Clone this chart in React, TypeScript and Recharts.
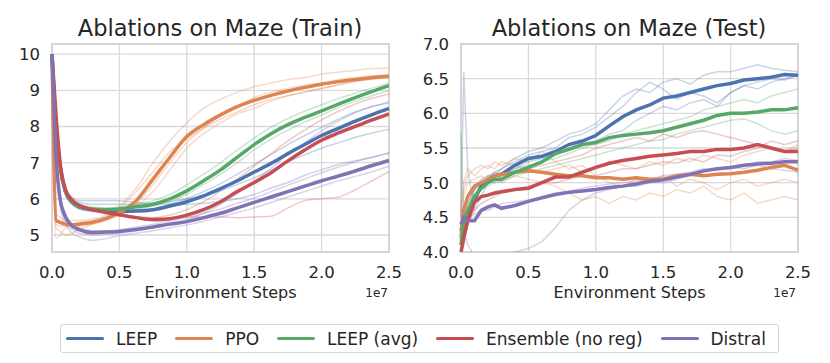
import { LineChart, Line, XAxis, YAxis, CartesianGrid, ReferenceArea, Label } from "recharts";

const INK = "#262626";
const FONT = "DejaVu Sans";

const METHODS = ["LEEP", "PPO", "LEEP (avg)", "Ensemble (no reg)", "Distral"];
const COLORS = ["#4c72b0", "#dd8452", "#55a868", "#c44e52", "#8172b3"];

const X_TICKS = [0, 0.5e7, 1e7, 1.5e7, 2e7, 2.5e7];

// ---- Train panel (x in units of 1e7 steps)
const TRAIN_STEPS = [0, 0.03, 0.06, 0.1, 0.15, 0.2, 0.3, 0.4, 0.5, 0.625, 0.75, 0.875, 1.0, 1.125, 1.25, 1.375, 1.5, 1.625, 1.75, 1.875, 2.0, 2.125, 2.25, 2.375, 2.5];
const TRAIN_LEEP = [10, 8.0, 6.9, 6.2, 5.9, 5.78, 5.7, 5.66, 5.65, 5.66, 5.7, 5.8, 5.92, 6.08, 6.28, 6.5, 6.74, 6.98, 7.25, 7.5, 7.75, 7.95, 8.15, 8.33, 8.5];
const TRAIN_PPO = [10, 5.4, 5.35, 5.3, 5.28, 5.3, 5.35, 5.45, 5.62, 5.95, 6.55, 7.15, 7.72, 8.05, 8.32, 8.55, 8.72, 8.86, 8.98, 9.08, 9.17, 9.24, 9.3, 9.35, 9.38];
const TRAIN_AVG = [10, 8.0, 6.9, 6.2, 5.9, 5.8, 5.72, 5.7, 5.72, 5.78, 5.85, 6.0, 6.22, 6.5, 6.8, 7.15, 7.5, 7.8, 8.05, 8.25, 8.43, 8.62, 8.8, 8.97, 9.13];
const TRAIN_ENS = [10, 8.3, 7.0, 6.25, 5.95, 5.82, 5.7, 5.62, 5.56, 5.48, 5.42, 5.45, 5.55, 5.7, 5.92, 6.2, 6.45, 6.72, 7.05, 7.35, 7.62, 7.82, 8.0, 8.18, 8.35];
const TRAIN_DISTRAL = [10, 7.2, 6.0, 5.5, 5.25, 5.15, 5.07, 5.08, 5.1, 5.15, 5.22, 5.3, 5.37, 5.48, 5.6, 5.75, 5.9, 6.05, 6.2, 6.35, 6.5, 6.63, 6.77, 6.92, 7.06];

const TRAIN_LEEP_RUNS = [
  [10, 8.0, 6.9, 6.25, 6.0, 5.9, 5.85, 5.85, 5.85, 5.85, 5.88, 5.92, 6.0, 6.1, 6.22, 6.4, 6.58, 6.8, 7.02, 7.22, 7.4, 7.55, 7.7, 7.82, 7.92],
  [10, 8.1, 7.0, 6.3, 6.05, 5.95, 5.95, 5.95, 5.95, 5.9, 5.88, 5.85, 5.85, 5.88, 5.92, 6.0, 6.12, 6.3, 6.45, 6.65, 6.8, 6.95, 7.05, 7.15, 7.25],
  [10, 7.9, 6.8, 6.15, 5.85, 5.72, 5.65, 5.62, 5.62, 5.65, 5.72, 5.85, 6.0, 6.2, 6.42, 6.68, 6.95, 7.22, 7.5, 7.75, 7.98, 8.2, 8.4, 8.55, 8.68],
];
const TRAIN_PPO_RUNS = [
  [10, 5.2, 5.1, 5.0, 5.05, 5.15, 5.3, 5.5, 5.8, 6.3, 7.0, 7.6, 8.1, 8.5, 8.75, 8.95, 9.1, 9.2, 9.3, 9.35, 9.45, 9.5, 9.55, 9.6, 9.62],
  [10, 5.6, 5.5, 5.4, 5.4, 5.4, 5.45, 5.5, 5.6, 5.8, 6.2, 6.8, 7.4, 7.8, 8.1, 8.35, 8.5, 8.7, 8.85, 8.95, 9.05, 9.15, 9.25, 9.3, 9.35],
  [10, 4.9, 5.0, 5.2, 5.3, 5.35, 5.4, 5.55, 5.75, 6.2, 6.75, 7.3, 7.65, 7.95, 8.2, 8.4, 8.6, 8.75, 8.85, 8.95, 9.05, 9.15, 9.25, 9.35, 9.45],
  [10, 5.3, 5.25, 5.25, 5.2, 5.25, 5.3, 5.4, 5.55, 5.85, 6.4, 7.0, 7.55, 7.95, 8.3, 8.55, 8.8, 8.95, 9.05, 9.15, 9.2, 9.3, 9.35, 9.4, 9.42],
];
const TRAIN_AVG_RUNS = [
  [10, 8.2, 7.0, 6.3, 6.0, 5.85, 5.78, 5.75, 5.78, 5.85, 5.95, 6.12, 6.38, 6.68, 7.0, 7.35, 7.68, 7.98, 8.22, 8.42, 8.6, 8.77, 8.92, 9.06, 9.2],
  [10, 7.8, 6.8, 6.1, 5.85, 5.75, 5.68, 5.66, 5.68, 5.72, 5.8, 5.92, 6.12, 6.4, 6.68, 7.0, 7.35, 7.65, 7.9, 8.12, 8.32, 8.52, 8.7, 8.85, 9.0],
];
const TRAIN_ENS_RUNS = [
  [10, 8.4, 7.1, 6.3, 6.0, 5.85, 5.7, 5.62, 5.55, 5.5, 5.48, 5.48, 5.5, 5.5, 5.5, 5.48, 5.5, 5.52, 5.75, 5.95, 6.0, 6.05, 6.25, 6.5, 6.75],
  [10, 8.2, 7.0, 6.2, 5.9, 5.8, 5.68, 5.6, 5.55, 5.5, 5.48, 5.55, 5.7, 5.92, 6.22, 6.55, 6.9, 7.25, 7.6, 7.9, 8.18, 8.42, 8.62, 8.78, 8.9],
];
const TRAIN_DISTRAL_RUNS = [
  [10, 7.0, 5.8, 5.3, 5.05, 4.95, 4.85, 4.9, 4.98, 5.05, 5.12, 5.2, 5.28, 5.38, 5.5, 5.62, 5.75, 5.9, 6.05, 6.2, 6.35, 6.5, 6.62, 6.75, 6.9],
  [10, 7.3, 6.1, 5.6, 5.3, 5.2, 5.12, 5.12, 5.15, 5.22, 5.3, 5.38, 5.48, 5.6, 5.72, 5.88, 6.02, 6.2, 6.38, 6.55, 6.72, 6.88, 7.02, 7.15, 7.28],
  [10, 7.1, 5.9, 5.4, 5.15, 5.05, 5.0, 5.02, 5.05, 5.12, 5.2, 5.3, 5.42, 5.6, 5.85, 6.15, 6.48, 6.85, 7.22, 7.55, 7.88, 8.15, 8.38, 8.55, 8.65],
];
const TRAIN_Y_TICKS = [5, 6, 7, 8, 9, 10];

// ---- Test panel
const TEST_STEPS = [0, 0.02, 0.05, 0.1, 0.15, 0.2, 0.25, 0.3, 0.4, 0.5, 0.6, 0.7, 0.8, 0.9, 1.0, 1.1, 1.2, 1.3, 1.4, 1.5, 1.6, 1.7, 1.8, 1.9, 2.0, 2.1, 2.2, 2.3, 2.4, 2.5];
const TEST_LEEP = [4.3, 4.5, 4.5, 4.75, 4.95, 5.05, 5.1, 5.12, 5.25, 5.35, 5.38, 5.45, 5.55, 5.6, 5.68, 5.82, 5.95, 6.05, 6.12, 6.22, 6.25, 6.3, 6.35, 6.4, 6.43, 6.48, 6.5, 6.52, 6.56, 6.55];
const TEST_PPO = [4.2, 4.6, 4.8, 4.95, 5.0, 5.05, 5.1, 5.12, 5.15, 5.17, 5.15, 5.12, 5.1, 5.1, 5.07, 5.07, 5.05, 5.07, 5.05, 5.05, 5.1, 5.12, 5.1, 5.12, 5.13, 5.15, 5.18, 5.22, 5.25, 5.18];
const TEST_AVG = [4.1, 4.4, 4.6, 4.8, 4.92, 5.0, 5.05, 5.05, 5.15, 5.22, 5.3, 5.42, 5.48, 5.55, 5.58, 5.65, 5.68, 5.7, 5.72, 5.75, 5.8, 5.85, 5.9, 5.97, 6.0, 6.0, 6.02, 6.05, 6.05, 6.08];
const TEST_ENS = [4.0, 4.2, 4.45, 4.72, 4.8, 4.82, 4.85, 4.87, 4.9, 4.92, 5.0, 5.08, 5.08, 5.15, 5.22, 5.28, 5.32, 5.35, 5.38, 5.4, 5.42, 5.45, 5.45, 5.48, 5.48, 5.5, 5.55, 5.5, 5.45, 5.45];
const TEST_DISTRAL = [4.4, 4.5, 4.45, 4.45, 4.6, 4.65, 4.68, 4.63, 4.67, 4.73, 4.78, 4.83, 4.86, 4.88, 4.9, 4.93, 4.95, 4.98, 5.02, 5.04, 5.08, 5.12, 5.17, 5.2, 5.22, 5.25, 5.27, 5.28, 5.3, 5.3];

const TEST_LEEP_RUNS = [
  [4.5, 6.6, 5.2, 4.6, 4.8, 5.0, 5.1, 5.2, 5.35, 5.45, 5.5, 5.6, 5.7, 5.75, 5.85, 6.05, 6.25, 6.35, 6.3, 6.45, 6.5, 6.42, 6.55, 6.6, 6.6, 6.65, 6.7, 6.65, 6.62, 6.6],
  [4.2, 4.4, 4.6, 4.8, 5.0, 5.05, 5.15, 5.1, 5.2, 5.3, 5.35, 5.4, 5.5, 5.55, 5.6, 5.7, 5.75, 5.9, 6.0, 6.1, 6.05, 6.15, 6.2, 6.1, 6.3, 6.4, 6.35, 6.45, 6.5, 6.55],
  [4.3, 4.5, 4.7, 4.9, 5.05, 5.1, 5.15, 5.2, 5.3, 5.4, 5.45, 5.5, 5.65, 5.7, 5.8, 5.95, 6.1, 6.3, 6.45, 6.35, 6.2, 6.3, 6.25, 6.15, 6.3, 6.4, 6.45, 6.5, 6.48, 6.55],
];
const TEST_PPO_RUNS = [
  [4.5, 4.9, 5.1, 5.2, 5.25, 5.2, 5.3, 5.25, 5.35, 5.3, 5.45, 5.3, 5.2, 5.25, 5.1, 5.0, 4.95, 5.05, 5.0, 5.1, 4.95, 5.05, 5.0, 4.9, 5.0, 5.05, 4.95, 5.0, 5.05, 5.0],
  [4.4, 4.8, 5.0, 5.05, 5.1, 5.0, 5.05, 5.0, 5.1, 5.05, 5.0, 4.95, 4.85, 4.75, 4.8, 4.7, 4.8, 4.75, 4.85, 4.8, 4.9, 4.85, 4.95, 4.8, 4.75, 4.85, 4.7, 4.75, 4.8, 4.75],
  [4.6, 5.0, 5.2, 5.1, 5.2, 5.25, 5.2, 5.3, 5.25, 5.2, 5.15, 5.2, 5.25, 5.15, 5.2, 5.3, 5.25, 5.2, 5.3, 5.25, 5.35, 5.3, 5.4, 5.35, 5.3, 5.4, 5.45, 5.5, 5.45, 5.55],
];
const TEST_AVG_RUNS = [
  [5.7, 4.6, 4.7, 4.9, 5.0, 5.1, 5.1, 5.15, 5.2, 5.25, 5.3, 5.35, 5.42, 5.5, 5.55, 5.6, 5.7, 5.75, 5.8, 5.85, 5.9, 5.95, 6.05, 6.1, 6.15, 6.2, 6.15, 6.25, 6.3, 6.35],
  [4.2, 4.4, 4.6, 4.75, 4.9, 4.95, 5.0, 5.02, 5.1, 5.15, 5.2, 5.25, 5.3, 5.35, 5.4, 5.45, 5.5, 5.55, 5.6, 5.62, 5.7, 5.75, 5.8, 5.85, 5.9, 5.92, 5.85, 5.75, 5.7, 5.75],
];
const TEST_ENS_RUNS = [
  [4.0, 4.3, 4.6, 4.9, 5.0, 5.05, 5.0, 5.1, 5.15, 5.2, 5.25, 5.3, 5.35, 5.4, 5.5, 5.55, 5.6, 5.65, 5.6, 5.7, 5.65, 5.72, 5.75, 5.7, 5.65, 5.6, 5.55, 5.5, 5.45, 5.5],
  [3.9, 4.1, 4.4, 4.6, 4.7, 4.75, 4.8, 4.85, 4.9, 4.95, 5.0, 5.0, 5.05, 5.1, 5.1, 5.15, 5.2, 5.2, 5.25, 5.3, 5.28, 5.35, 5.3, 5.4, 5.38, 5.45, 5.5, 5.6, 5.55, 5.6],
];
const TEST_DISTRAL_RUNS = [
  [4.4, 4.3, 4.1, 3.95, 3.9, 3.85, 3.9, 3.95, 4.0, 4.05, 4.15, 4.35, 4.6, 4.75, 4.85, 4.9, 4.95, 4.95, 5.0, 5.0, 5.05, 5.1, 5.15, 5.2, 5.22, 5.25, 5.3, 5.3, 5.35, 5.32],
  [4.5, 4.6, 4.5, 4.55, 4.6, 4.6, 4.65, 4.7, 4.72, 4.75, 4.8, 4.85, 4.88, 4.92, 4.95, 4.98, 5.0, 5.02, 5.05, 5.1, 5.12, 5.15, 5.2, 5.18, 5.22, 5.2, 5.25, 5.2, 5.18, 5.15],
];
const TEST_Y_TICKS = [4.0, 4.5, 5.0, 5.5, 6.0, 6.5, 7.0];

function buildRows(steps: number[], means: number[][], runs: number[][][]) {
  return steps.map((s, i) => {
    const row: Record<string, number> = { x: s * 1e7 };
    METHODS.forEach((m, k) => {
      row[m] = means[k][i];
      runs[k].forEach((r, j) => {
        row[`${m}#${j}`] = r[i];
      });
    });
    return row;
  });
}

const TRAIN_ROWS = buildRows(
  TRAIN_STEPS,
  [TRAIN_LEEP, TRAIN_PPO, TRAIN_AVG, TRAIN_ENS, TRAIN_DISTRAL],
  [TRAIN_LEEP_RUNS, TRAIN_PPO_RUNS, TRAIN_AVG_RUNS, TRAIN_ENS_RUNS, TRAIN_DISTRAL_RUNS]
);
const TRAIN_RUN_COUNTS = [TRAIN_LEEP_RUNS, TRAIN_PPO_RUNS, TRAIN_AVG_RUNS, TRAIN_ENS_RUNS, TRAIN_DISTRAL_RUNS].map((r) => r.length);

const TEST_ROWS = buildRows(
  TEST_STEPS,
  [TEST_LEEP, TEST_PPO, TEST_AVG, TEST_ENS, TEST_DISTRAL],
  [TEST_LEEP_RUNS, TEST_PPO_RUNS, TEST_AVG_RUNS, TEST_ENS_RUNS, TEST_DISTRAL_RUNS]
);
const TEST_RUN_COUNTS = [TEST_LEEP_RUNS, TEST_PPO_RUNS, TEST_AVG_RUNS, TEST_ENS_RUNS, TEST_DISTRAL_RUNS].map((r) => r.length);

const tickStyle = { fontSize: 16.5, fill: INK, fontFamily: FONT };

function Panel({
  rows,
  runCounts,
  yDomain,
  yTicks,
  yFmt,
  left,
  curve,
}: {
  rows: Record<string, number>[];
  runCounts: number[];
  yDomain: [number, number];
  yTicks: number[];
  yFmt: (v: number) => string;
  left: number;
  curve: "monotone" | "linear";
}) {
  const faint = METHODS.flatMap((m, k) =>
    Array.from({ length: runCounts[k] }, (_, j) => (
      <Line
        key={`${m}#${j}`}
        dataKey={`${m}#${j}`}
        type={curve}
        stroke={COLORS[k]}
        strokeOpacity={0.3}
        strokeWidth={1.5}
        dot={false}
        isAnimationActive={false}
      />
    ))
  );
  return (
    <LineChart width={415} height={310} data={rows} margin={{ top: 44, right: 415 - left - 40 - 337, bottom: 0, left }}>
      <CartesianGrid stroke="#d9d9d9" strokeWidth={1.3} />
      <ReferenceArea x1={0} x2={2.5e7} y1={yDomain[0]} y2={yDomain[1]} fill="none" stroke="#d0d0d0" strokeWidth={1.5} />
      <XAxis
        dataKey="x"
        type="number"
        domain={[0, 2.5e7]}
        ticks={X_TICKS}
        tickFormatter={(v: number) => (v / 1e7).toFixed(1)}
        axisLine={false}
        tickLine={false}
        tickSize={6}
        tickMargin={8}
        height={58}
        tick={tickStyle}
        interval={0}
      >
        <Label value="Environment Steps" position="insideBottom" offset={12} style={{ fontSize: 16, fill: INK, fontFamily: FONT }} />
      </XAxis>
      <YAxis
        type="number"
        domain={yDomain}
        ticks={yTicks}
        allowDataOverflow
        tickFormatter={yFmt}
        axisLine={false}
        tickLine={false}
        tickSize={6}
        tickMargin={6}
        width={40}
        tick={tickStyle}
        interval={0}
      />
      {faint}
      {METHODS.map((m, k) => (
        <Line key={m} dataKey={m} type={curve} stroke={COLORS[k]} strokeWidth={3.5} dot={false} isAnimationActive={false} />
      ))}
    </LineChart>
  );
}

function Title({ text, center }: { text: string; center: number }) {
  return (
    <div style={{ position: "absolute", left: center - 200, width: 400, top: 17, textAlign: "center", fontSize: 22.5, lineHeight: 1, color: INK }}>
      {text}
    </div>
  );
}

function Exponent({ right }: { right: number }) {
  return (
    <div style={{ position: "absolute", left: right - 40, width: 40, top: 287, textAlign: "right", fontSize: 12, lineHeight: 1, color: INK }}>
      1e7
    </div>
  );
}

export default function App() {
  return (
    <div style={{ position: "relative", width: 830, height: 363, background: "#fff", fontFamily: FONT, overflow: "hidden" }}>
      <style>{"body{margin:0}"}</style>
      <div style={{ position: "absolute", left: 0, top: 0 }}>
        <Panel rows={TRAIN_ROWS} runCounts={TRAIN_RUN_COUNTS} yDomain={[4.53, 10.28]} yTicks={TRAIN_Y_TICKS} yFmt={(v) => String(v)} left={12} curve="monotone" />
      </div>
      <div style={{ position: "absolute", left: 415, top: 0 }}>
        <Panel rows={TEST_ROWS} runCounts={TEST_RUN_COUNTS} yDomain={[4, 7]} yTicks={TEST_Y_TICKS} yFmt={(v) => v.toFixed(1)} left={6} curve="linear" />
      </div>
      <Title text="Ablations on Maze (Train)" center={220} />
      <Title text="Ablations on Maze (Test)" center={629} />
      <Exponent right={388} />
      <Exponent right={796} />
      <div
        style={{
          position: "absolute",
          left: 60,
          top: 324,
          width: 719,
          height: 29,
          boxSizing: "border-box",
          border: "1px solid #d6d6d6",
          borderRadius: 3,
          display: "flex",
          alignItems: "center",
          justifyContent: "space-between",
          padding: "0 12px 0 5px",
          fontSize: 17,
          color: INK,
        }}
      >
        {METHODS.map((m, k) => (
          <div key={m} style={{ display: "flex", alignItems: "center" }}>
            <div style={{ width: 38, height: 3, background: COLORS[k], borderRadius: 2, marginRight: 12 }} />
            <span>{m}</span>
          </div>
        ))}
      </div>
    </div>
  );
}
